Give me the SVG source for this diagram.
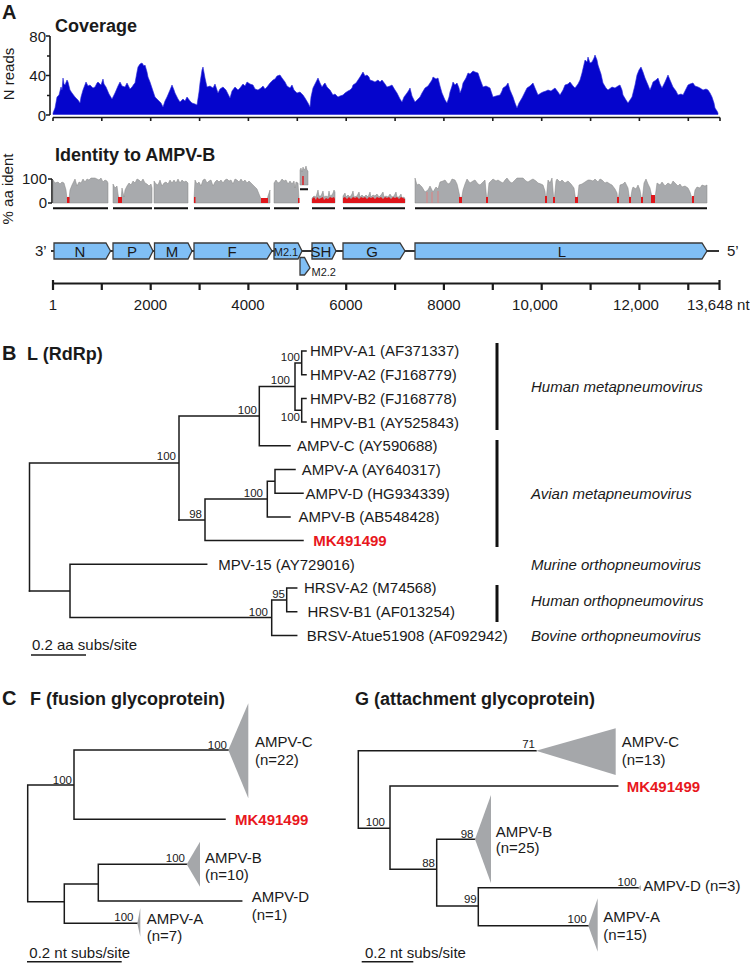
<svg xmlns="http://www.w3.org/2000/svg" width="750" height="963" viewBox="0 0 750 963">
<style>
text{font-family:"Liberation Sans",Arial,Helvetica,sans-serif;fill:#1a1a1a}
.tip{font-size:15px}
.bs{font-size:11.5px;text-anchor:end}
.ttl{font-size:18px;font-weight:bold}
.pl{font-size:20px;font-weight:bold}
.ax{font-size:15px}
.grp{font-size:15px;font-style:italic}
.mk{fill:#e8171d;font-weight:bold;font-size:15px}
.br{stroke:#1a1a1a;stroke-width:1.5;fill:none;stroke-linecap:square}
.axl{stroke:#1a1a1a;stroke-width:1.6;fill:none}
.gene{fill:#80bff5;stroke:#3a3a3a;stroke-width:1.3}
.tri{fill:#a5a7aa}
.idg{fill:#a8aaad;stroke:#858585;stroke-width:0.5}
.idr{fill:#e0161b}
.ul{stroke:#111;stroke-width:2}
</style>
<rect width="750" height="963" fill="#fff"/>

<!-- Panel A : coverage -->
<g id="panelA-coverage">
<text class="pl" x="2" y="18.5">A</text>
<text class="ttl" x="55" y="32">Coverage</text>
<text class="ax" transform="translate(14,74) rotate(-90)" text-anchor="middle">N reads</text>
<text class="ax" x="46" y="41.5" text-anchor="end">80</text>
<text class="ax" x="46" y="81" text-anchor="end">40</text>
<text class="ax" x="46" y="120.5" text-anchor="end">0</text>
<path class="axl" d="M50,36 V115 M46,36 H50 M47,56 H50 M46,75.5 H50 M47,95.5 H50 M46,115 H50"/>
<path fill="#0505cc" stroke="#2a2ad8" stroke-width="0.6" d="M53,114.5 V113 L55,108 L57,97 L59,95 L61,87 L62,90 L63,78 L64,84 L65,85 L67,80 L68,82 L70,90 L72,93 L75,97 L78,100 L80,103 L81,97 L83,90 L86,82 L88,86 L90,85 L93,88 L95,87 L97,83 L98,82 L101,85 L103,79 L104,84 L106,87 L109,94 L112,99 L115,93 L118,86 L120,82 L122,86 L125,87 L127,83 L128,85 L130,89 L132,87 L134,84 L135,83 L137,72 L138,67 L140,64 L142,63 L144,66 L145,65 L147,72 L148,77 L150,82 L152,88 L155,97 L157,99 L159,101 L161,103 L163,107 L165,101 L167,97 L170,90 L172,85 L174,90 L175,93 L178,99 L180,102 L183,99 L185,101 L187,97 L190,101 L192,103 L195,104 L197,105 L199,92 L200,83 L202,70 L203,67 L205,78 L207,87 L210,86 L213,88 L215,84 L218,93 L220,89 L223,87 L226,90 L228,94 L230,98 L232,91 L235,87 L238,90 L240,88 L243,84 L245,86 L247,82 L250,84 L253,85 L255,89 L258,90 L261,88 L263,86 L265,89 L267,87 L270,83 L273,80 L275,79 L277,76 L280,75 L282,78 L285,82 L287,86 L290,88 L292,85 L294,90 L297,93 L300,92 L303,95 L305,98 L308,103 L310,107 L311,97 L313,88 L315,84 L318,78 L320,83 L322,87 L324,84 L325,83 L327,87 L330,90 L333,95 L335,94 L338,97 L340,96 L343,95 L345,93 L348,91 L350,90 L352,88 L353,85 L356,83 L358,80 L360,77 L363,72 L365,76 L367,75 L369,77 L370,80 L373,81 L375,82 L378,80 L380,82 L382,80 L385,84 L387,87 L390,86 L392,85 L395,90 L397,93 L400,99 L402,102 L404,97 L407,93 L409,90 L410,88 L412,96 L415,102 L418,99 L420,97 L422,93 L425,88 L428,86 L430,83 L432,80 L433,77 L436,79 L438,78 L440,86 L442,93 L445,100 L447,103 L449,97 L450,92 L452,86 L453,82 L455,85 L457,83 L459,88 L460,93 L462,88 L463,83 L466,78 L468,73 L470,74 L473,71 L475,72 L478,73 L480,79 L483,87 L486,86 L490,88 L492,94 L493,97 L496,96 L500,95 L502,91 L503,88 L506,86 L508,83 L510,90 L513,97 L515,103 L517,108 L519,103 L522,98 L525,92 L527,88 L530,86 L533,83 L535,88 L538,95 L541,93 L543,92 L546,91 L548,90 L551,91 L555,88 L558,92 L560,95 L563,90 L565,85 L568,84 L570,82 L573,86 L575,88 L578,84 L580,80 L582,73 L585,60 L587,62 L588,57 L590,63 L592,62 L594,58 L595,55 L597,60 L598,65 L601,74 L603,83 L606,88 L608,90 L612,87 L615,88 L618,86 L620,85 L622,90 L623,95 L626,100 L628,103 L630,100 L632,97 L635,85 L637,75 L639,70 L641,67 L643,72 L645,78 L648,85 L650,90 L652,85 L653,82 L656,80 L658,78 L660,84 L662,88 L665,82 L668,75 L670,80 L673,87 L676,91 L678,95 L681,94 L683,95 L686,89 L688,85 L690,84 L693,83 L695,86 L698,87 L700,88 L703,90 L706,89 L708,90 L710,93 L712,97 L714,103 L715,108 L717,111 L718,113 V114.5 Z"/>
<path class="axl" d="M53,117.5 H720 M53,117.5 V121 M101.8,117.5 V121 M150.7,117.5 V121 M199.6,117.5 V121 M248.4,117.5 V121 M297.3,117.5 V121 M346.2,117.5 V121 M395.1,117.5 V121 M443.9,117.5 V121 M492.8,117.5 V121 M541.7,117.5 V121 M590.6,117.5 V121 M639.4,117.5 V121 M688.3,117.5 V121 M720,117.5 V121"/>
</g>

<!-- Panel A : identity -->
<g id="panelA-identity">
<text class="ttl" x="55" y="161">Identity to AMPV-B</text>
<text class="ax" transform="translate(13,189) rotate(-90)" text-anchor="middle">% aa ident</text>
<text class="ax" x="47" y="184" text-anchor="end">100</text>
<text class="ax" x="47" y="207.5" text-anchor="end">0</text>
<path class="axl" d="M52,179 V203 M48,179 H52 M48,203 H52"/>
<path class="idg" d="M53,203 V180 L55,183 L58,182 L60,184 L62,182 L64,183 L66,190 L67,199 L69,199 L70,190 L72,185 L74,181 L75,179 L77,186 L79,182 L81,183 L83,179 L85,182 L87,179 L89,180 L91,178 L93,178 L95,178 L97,179 L99,180 L101,178 L103,182 L105,180 L107,181 L108,183 V203 Z"/>
<path class="idg" d="M113,203 V184 L115,188 L117,186 L118,194 L119,200 L121,200 L122,188 L124,197 L125,190 L127,186 L129,183 L131,185 L133,181 L135,183 L137,179 L139,180 L141,182 L143,179 L145,183 L147,184 L149,186 L151,184 L152,188 V203 Z"/>
<path class="idg" d="M154,203 V181 L156,184 L158,185 L160,180 L162,186 L164,183 L166,182 L168,184 L170,180 L172,183 L174,180 L176,183 L178,179 L180,183 L182,180 L184,182 L186,181 L188,183 V203 Z"/>
<path class="idg" d="M194,203 V199 L195,180 L197,184 L199,182 L201,186 L203,180 L205,179 L207,183 L209,181 L211,180 L213,186 L215,182 L217,180 L219,182 L221,180 L223,183 L225,180 L227,179 L229,181 L231,180 L233,184 L235,179 L237,180 L239,182 L241,179 L243,182 L245,180 L247,183 L249,181 L251,183 L253,185 L255,187 L257,189 L259,194 L261,199 L263,200 L265,199 L267,200 L268,196 L270,190 V203 Z"/>
<path class="idg" d="M274,203 V183 L276,180 L278,183 L280,182 L282,179 L284,181 L286,180 L288,184 L290,181 L292,184 L294,181 L295,188 L296,182 L298,183 L299,199 V203 Z"/>
<path class="idg" d="M300,185 V170 L301,168 L302,172 L303,167 L304,170 L305,169 L306,166 L307,170 L308,171 V185 Z"/>
<path class="idg" d="M312,203 V198 L314,196 L316,197 L318,190 L319,196 L321,196 L323,191 L324,197 L326,196 L328,197 L329,191 L330,196 L332,195 L333,193 L334,190 L335,192 V203 Z"/>
<path class="idg" d="M343,203 V196 L345,193 L346,197 L348,195 L350,197 L352,194 L353,191 L354,197 L357,196 L359,192 L360,197 L362,195 L364,197 L366,195 L368,197 L370,192 L371,197 L373,195 L375,196 L377,194 L379,197 L381,195 L383,192 L384,197 L386,196 L388,197 L390,194 L392,197 L394,196 L396,192 L397,197 L399,197 L401,194 L402,198 L404,197 L405,199 V203 Z"/>
<path class="idg" d="M415,203 V178 L417,185 L419,184 L422,187 L425,192 L428,190 L430,186 L433,192 L436,187 L438,189 L440,182 L443,181 L445,180 L448,184 L450,183 L452,179 L455,180 L457,184 L458,188 L461,202 L463,190 L465,184 L467,179 L470,183 L473,181 L475,180 L478,184 L480,185 L483,182 L485,180 L487,202 L489,183 L491,181 L493,179 L496,181 L498,180 L501,182 L503,183 L505,180 L507,178 L510,182 L512,183 L515,180 L517,178 L520,178 L523,178 L526,181 L528,182 L531,180 L533,179 L536,181 L538,183 L541,184 L543,185 L545,191 L546,201 L548,180 L550,183 L552,178 L554,202 L556,181 L557,179 L560,182 L562,180 L565,183 L568,181 L571,184 L574,188 L576,202 L578,195 L579,185 L582,184 L585,182 L588,180 L590,180 L593,181 L595,179 L598,182 L600,179 L602,180 L605,183 L607,182 L610,184 L612,185 L615,189 L617,193 L618,202 L620,185 L623,184 L625,182 L628,188 L630,202 L632,190 L633,187 L636,189 L638,185 L640,190 L642,202 L644,183 L646,179 L648,184 L650,188 L652,197 L653,202 L655,198 L657,183 L660,185 L662,182 L665,186 L668,183 L671,185 L673,181 L675,183 L678,186 L680,184 L682,187 L685,186 L688,188 L690,192 L693,202 L695,190 L697,187 L700,188 L702,185 L705,186 L707,185 V203 Z"/>
<g class="idr">
<rect x="67" y="197" width="2.5" height="6"/>
<rect x="118" y="197" width="4" height="6"/>
<rect x="194" y="197" width="1.5" height="6"/>
<rect x="261" y="198" width="7" height="5"/>
<rect x="298" y="198" width="1.5" height="5"/>
<rect x="302" y="176" width="2" height="9" opacity="0.7"/>
<path d="M312,203 V199 L314,197 L316,200 L317,197 L319,199 L321,198 L323,197 L324,200 L326,198 L328,199 L330,197 L332,198 L334,197 L335,199 V203 Z"/>
<path d="M343,203 V198 L345,197 L347,199 L349,197 L351,199 L353,197 L355,198 L357,197 L359,199 L361,197 L363,198 L365,197 L367,199 L369,197 L371,198 L373,197 L375,199 L377,197 L379,198 L381,197 L383,199 L385,197 L387,198 L389,197 L391,199 L393,197 L395,198 L397,197 L399,199 L401,197 L403,198 L405,199 V203 Z"/>
<rect x="459" y="197" width="3" height="6"/>
<rect x="486" y="197" width="2" height="6"/>
<rect x="545" y="196" width="2" height="7"/>
<rect x="553" y="197" width="2" height="6"/>
<rect x="575" y="197" width="3" height="6"/>
<rect x="617" y="197" width="2" height="6"/>
<rect x="629" y="197" width="2" height="6"/>
<rect x="641" y="197" width="2" height="6"/>
<rect x="651" y="195" width="4" height="8"/>
<rect x="692" y="196" width="2" height="7"/>
</g>
<path stroke="#e77" stroke-width="0.8" d="M427,192 V203 M432,192 V203 M438,191 V203"/>
<path class="ul" d="M53,208.3 H108 M113,208.3 H152 M154,208.3 H188 M194,208.3 H270 M274,208.3 H299 M300,189.3 H308 M312,208.3 H335 M343,208.3 H405 M415,208.3 H707"/>
</g>

<!-- Panel A : genome map -->
<g id="panelA-genome">
<text class="ax" x="35" y="256">3’</text>
<path stroke="#333" stroke-width="2" d="M51,251 H719"/>
<text class="ax" x="727" y="256">5’</text>
<g id="gene-N"><path class="gene" d="M54,243 H106 L110.5,251 L106,259 H54 Z"/><text class="ax" x="80" y="256.5" text-anchor="middle">N</text></g>
<g id="gene-P"><path class="gene" d="M113,243 H149 L153,251 L149,259 H113 Z"/><text class="ax" x="132" y="256.5" text-anchor="middle">P</text></g>
<g id="gene-M"><path class="gene" d="M154.5,243 H188 L192,251 L188,259 H154.5 Z"/><text class="ax" x="172" y="256.5" text-anchor="middle">M</text></g>
<g id="gene-F"><path class="gene" d="M194,243 H267 L272,251 L267,259 H194 Z"/><text class="ax" x="232" y="256.5" text-anchor="middle">F</text></g>
<g id="gene-M2-1"><path class="gene" d="M274,243 H298 L302,251 L298,259 H274 Z"/><text x="286" y="255.5" font-size="11" text-anchor="middle">M2.1</text></g>
<g id="gene-M2-2"><path class="gene" d="M300,257.5 H304.5 L310,268 L304.5,275 H300 Z"/><text x="311.5" y="276" font-size="11">M2.2</text></g>
<g id="gene-SH"><path class="gene" d="M312,243 H332 L336,251 L332,259 H312 Z"/><text class="ax" x="321" y="256.5" text-anchor="middle">SH</text></g>
<g id="gene-G"><path class="gene" d="M343,243 H400 L405,251 L400,259 H343 Z"/><text class="ax" x="372" y="256.5" text-anchor="middle">G</text></g>
<g id="gene-L"><path class="gene" d="M415,243 H702 L707,251 L702,259 H415 Z"/><text class="ax" x="562" y="256.5" text-anchor="middle">L</text></g>
<path stroke="#1a1a1a" stroke-width="2.2" fill="none" d="M53,283.5 H720 M53,280 V290 M101.8,283.5 V290 M150.7,283.5 V290 M199.6,283.5 V290 M248.4,283.5 V290 M297.3,283.5 V290 M346.2,283.5 V290 M395.1,283.5 V290 M443.9,283.5 V290 M492.8,283.5 V290 M541.7,283.5 V290 M590.6,283.5 V290 M639.4,283.5 V290 M688.3,283.5 V290 M719.5,280 V290"/>
<g id="genome-axis-labels">
<text class="ax" x="53" y="309.5" text-anchor="middle">1</text>
<text class="ax" x="150.5" y="309.5" text-anchor="middle">2000</text>
<text class="ax" x="248" y="309.5" text-anchor="middle">4000</text>
<text class="ax" x="346" y="309.5" text-anchor="middle">6000</text>
<text class="ax" x="444" y="309.5" text-anchor="middle">8000</text>
<text class="ax" x="535" y="309.5" text-anchor="middle">10,000</text>
<text class="ax" x="636" y="309.5" text-anchor="middle">12,000</text>
<text class="ax" x="687" y="309.5" text-anchor="start">13,648 nt</text>
</g>
</g>

<!-- Panel B : L (RdRp) tree -->
<g id="panelB-title">
<text class="pl" x="2" y="359.5">B</text>
<text class="ttl" x="27" y="359.5">L (RdRp)</text>
</g>
<g id="panelB-connectors" class="br">
<path d="M29.5,463 V591 M29.5,463 H179 M179,416 V520 M179,416 H259.3 M259.3,386.5 V445.8 M259.3,386.5 H295 M259.3,445.8 H290 M295,362.9 V410.3 M295,362.9 H301.7 M295,410.3 H301.7 M301.7,351 V374.7 M301.7,351 H306 M301.7,374.7 H306 M301.7,398.4 V422.1 M301.7,398.4 H306 M301.7,422.1 H306"/>
<path d="M179,520 H205 M205,499 V540.6 M205,499 H267.3 M267.3,481.3 V516.9 M267.3,481.3 H275 M275,469.5 V493.2 M275,469.5 H295 M275,493.2 H303 M267.3,516.9 H290 M205,540.6 H303"/>
<path d="M29.5,591 H70 M70,564.3 V617.6 M70,564.3 H206.7 M70,617.6 H271.7 M271.7,599.9 V635.4 M271.7,599.9 H286.7 M286.7,588 V611.7 M286.7,588 H296.7 M286.7,611.7 H296.7 M271.7,635.4 H296.7"/>
</g>
<g id="panelB-support">
<text class="bs" x="300" y="360.5">100</text>
<text class="bs" x="300" y="420.5">100</text>
<text class="bs" x="290" y="384">100</text>
<text class="bs" x="257" y="413.5">100</text>
<text class="bs" x="176" y="460">100</text>
<text class="bs" x="202" y="518">98</text>
<text class="bs" x="263" y="497">100</text>
<text class="bs" x="268" y="615.5">100</text>
<text class="bs" x="285" y="598">95</text>
</g>
<g id="tip-HMPV-A1"><text class="tip" x="310" y="356.4">HMPV-A1 (AF371337)</text></g>
<g id="tip-HMPV-A2"><text class="tip" x="310" y="380.1">HMPV-A2 (FJ168779)</text></g>
<g id="tip-HMPV-B2"><text class="tip" x="310" y="403.8">HMPV-B2 (FJ168778)</text></g>
<g id="tip-HMPV-B1"><text class="tip" x="310" y="427.5">HMPV-B1 (AY525843)</text></g>
<g id="tip-AMPV-C"><text class="tip" x="297" y="451.2">AMPV-C (AY590688)</text></g>
<g id="tip-AMPV-A"><text class="tip" x="301.7" y="474.9">AMPV-A (AY640317)</text></g>
<g id="tip-AMPV-D"><text class="tip" x="305.5" y="498.6">AMPV-D (HG934339)</text></g>
<g id="tip-AMPV-B"><text class="tip" x="298.5" y="522.3">AMPV-B (AB548428)</text></g>
<g id="tip-MK491499-L"><text class="mk" x="313.3" y="546">MK491499</text></g>
<g id="tip-MPV-15"><text class="tip" x="218.3" y="569.7">MPV-15 (AY729016)</text></g>
<g id="tip-HRSV-A2"><text class="tip" x="304" y="593.4">HRSV-A2 (M74568)</text></g>
<g id="tip-HRSV-B1"><text class="tip" x="307.5" y="617.1">HRSV-B1 (AF013254)</text></g>
<g id="tip-BRSV"><text class="tip" x="306.7" y="640.8">BRSV-Atue51908 (AF092942)</text></g>
<g id="panelB-groups">
<path stroke="#111" stroke-width="3" d="M497,343 V430 M497,440 V547 M497,585 V622"/>
<text class="grp" x="531" y="392">Human metapneumovirus</text>
<text class="grp" x="531" y="498.5">Avian metapneumovirus</text>
<text class="grp" x="531" y="569.7">Murine orthopneumovirus</text>
<text class="grp" x="531" y="605.5">Human orthopneumovirus</text>
<text class="grp" x="531" y="640.8">Bovine orthopneumovirus</text>
</g>
<g id="panelB-scale">
<text class="tip" x="32" y="649.5">0.2 aa subs/site</text>
<path stroke="#1a1a1a" stroke-width="1.5" d="M31,655 H86"/>
</g>

<!-- Panel C : F tree -->
<g id="panelC-title">
<text class="pl" x="2" y="705">C</text>
<text class="ttl" x="30" y="705">F (fusion glycoprotein)</text>
</g>
<g id="panelC-connectors" class="br">
<path d="M27.7,785 V901.7 M27.7,785 H74 M74,750 V819.3 M74,750 H228.3 M74,819.3 H225 M27.7,901.7 H64.3 M64.3,884 V923.3 M64.3,884 H98.3 M98.3,864.3 V901 M98.3,864.3 H186.7 M98.3,901 H241.7 M64.3,923.3 H137.3"/>
</g>
<g id="panelC-support">
<text class="bs" x="72" y="783.5">100</text>
<text class="bs" x="227" y="748.5">100</text>
<text class="bs" x="185" y="862">100</text>
<text class="bs" x="133.5" y="921">100</text>
</g>
<g id="C-AMPV-C"><polygon class="tri" points="228.3,750 248.3,703.3 248.3,798.3"/><text class="tip" x="255" y="747">AMPV-C</text><text class="tip" x="255" y="764.5">(n=22)</text></g>
<g id="C-MK491499"><text class="mk" x="235" y="824.5">MK491499</text></g>
<g id="C-AMPV-B"><polygon class="tri" points="186.7,864.3 200,841.7 200,886.7"/><text class="tip" x="205" y="862.5">AMPV-B</text><text class="tip" x="205" y="880">(n=10)</text></g>
<g id="C-AMPV-D"><text class="tip" x="251.7" y="901.5">AMPV-D</text><text class="tip" x="251.7" y="920">(n=1)</text></g>
<g id="C-AMPV-A"><polygon class="tri" points="137.3,923.3 140.3,908 140.3,936.7"/><text class="tip" x="146.7" y="923.5">AMPV-A</text><text class="tip" x="146.7" y="940.5">(n=7)</text></g>
<g id="panelC-scale">
<text class="tip" x="29.3" y="957.5">0.2 nt subs/site</text>
<path stroke="#1a1a1a" stroke-width="1.5" d="M27,961.7 H121.7"/>
</g>

<!-- Panel G tree -->
<g id="panelG-title">
<text class="ttl" x="355" y="705">G (attachment glycoprotein)</text>
</g>
<g id="panelG-connectors" class="br">
<path d="M358.3,750.7 V828.3 M358.3,750.7 H536 M358.3,828.3 H390 M390,786 V869.3 M390,786 H617.7 M390,869.3 H436.7 M436.7,839.3 V906 M436.7,839.3 H475 M436.7,906 H478.3 M478.3,887.7 V925.7 M478.3,887.7 H638.3 M478.3,925.7 H588.3"/>
</g>
<g id="panelG-support">
<text class="bs" x="535" y="748">71</text>
<text class="bs" x="385" y="825.5">100</text>
<text class="bs" x="473.5" y="837.5">98</text>
<text class="bs" x="435" y="866.5">88</text>
<text class="bs" x="476.7" y="903">99</text>
<text class="bs" x="636.7" y="885.5">100</text>
<text class="bs" x="586.7" y="923">100</text>
</g>
<g id="G-AMPV-C"><polygon class="tri" points="536,750.7 615.7,728.3 615.7,775"/><text class="tip" x="621.7" y="747.3">AMPV-C</text><text class="tip" x="621.7" y="764.5">(n=13)</text></g>
<g id="G-MK491499"><text class="mk" x="626.7" y="791.7">MK491499</text></g>
<g id="G-AMPV-B"><polygon class="tri" points="475,839.3 491,795 491,883.3"/><text class="tip" x="495.7" y="836.5">AMPV-B</text><text class="tip" x="495.7" y="852.5">(n=25)</text></g>
<g id="G-AMPV-D"><polygon class="tri" points="638.3,887.7 640.8,885 640.8,890.5"/><text class="tip" x="643.3" y="891">AMPV-D (n=3)</text></g>
<g id="G-AMPV-A"><polygon class="tri" points="588.3,925.7 597.7,898.3 597.7,951.7"/><text class="tip" x="603.3" y="921.7">AMPV-A</text><text class="tip" x="603.3" y="939.5">(n=15)</text></g>
<g id="panelG-scale">
<text class="tip" x="365" y="957.5">0.2 nt subs/site</text>
<path stroke="#1a1a1a" stroke-width="1.5" d="M361.7,961.7 H413.3"/>
</g>
</svg>
